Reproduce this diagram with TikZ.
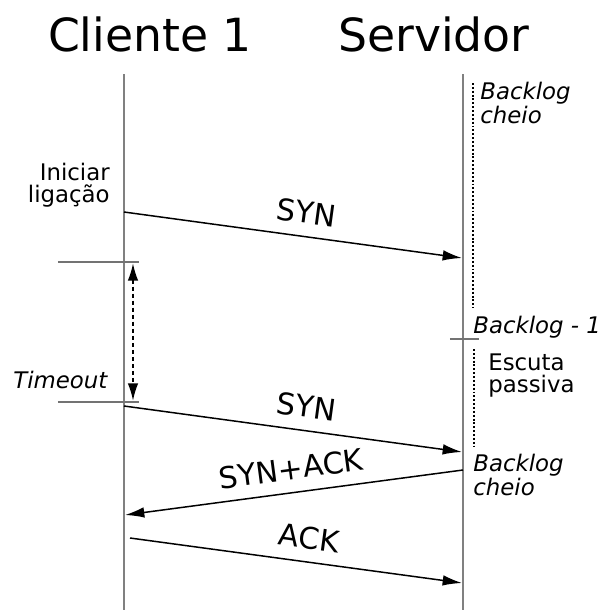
\documentclass[tikz,border=0pt]{standalone}
\usepackage{fontspec}
\setmainfont{DejaVu Sans}
\usetikzlibrary{arrows.meta}
\usetikzlibrary{positioning}

\begin{document}
\begin{tikzpicture}[x=0.02cm,y=-0.02cm,
  lifeline/.style={draw=black!50,line width=1.7pt},
  tick/.style={draw=black!55,line width=1.2pt},
  msg/.style={draw,line width=0.85pt,-{Latex[length=11pt,width=6pt]}},
  backlog/.style={draw,line width=1.1pt,dash pattern=on 1.1pt off 1.1pt},
  heading/.style={font=\fontsize{26}{30}\selectfont,anchor=base},
  note/.style={font=\fontsize{13}{12.5}\selectfont,inner sep=0pt},
  lbl/.style={font=\fontsize{17}{20}\selectfont,sloped,above=3.5pt}]
  \useasboundingbox (0,0) rectangle (605,610);

  %top
  \node[heading] (cli) at (150,51) {Cliente 1};
  \node[heading] (srv) at (434,51) {Servidor};
  \coordinate (c-top) at (124,74);
  \coordinate (c-bot) at (124,610);
  \coordinate (s-top) at (463,74);
  \coordinate (s-bot) at (463,610);
  \draw[lifeline] (c-top) -- (c-bot);
  \draw[lifeline] (s-top) -- (s-bot);

  %backlog
  \coordinate (b1-top) at (473,83);
  \coordinate (b1-bot) at (473,308);
  \coordinate (b2-top) at (474,349);
  \coordinate (b2-bot) at (474,447);
  \draw[backlog] (b1-top) -- (b1-bot);
  \draw[backlog] (b2-top) -- (b2-bot);
  \coordinate (bt-l) at (450,339);
  \coordinate (bt-r) at (479,339);
  \draw[tick] (bt-l) -- (bt-r);
  \node[note,anchor=base west,align=left,font=\fontsize{13}{12.5}\selectfont\itshape] (full1) at (480,123) {Backlog\\cheio};
  \node[note,anchor=base west,font=\fontsize{13}{15}\selectfont\itshape] (minus) at (473,333) {Backlog - 1};
  \node[note,anchor=base west,align=left,font=\fontsize{13}{12}\selectfont] (listen) at (488,392) {Escuta\\passiva};
  \node[note,anchor=base west,align=left,font=\fontsize{13}{12.5}\selectfont\itshape] (full2) at (473,495) {Backlog\\cheio};

  %timeout
  \coordinate (t1-l) at (58,262);
  \coordinate (t1-r) at (139,262);
  \coordinate (t2-l) at (58,402);
  \coordinate (t2-r) at (139,402);
  \draw[tick] (t1-l) -- (t1-r);
  \draw[tick] (t2-l) -- (t2-r);
  \coordinate (to-top) at (133,263);
  \coordinate (to-bot) at (133,401);
  \draw[line width=1.2pt,dash pattern=on 2.5pt off 1.5pt,{Latex[length=10pt,width=6pt]}-{Latex[length=10pt,width=6pt]}] (to-top) -- (to-bot);
  \node[note,anchor=base west,font=\fontsize{13}{15}\selectfont\itshape] (tout) at (13,388) {Timeout};
  \node[note,anchor=base east,align=right,font=\fontsize{13}{12.5}\selectfont] (start) at (110,202) {Iniciar\\ligação};

  %messages
  \coordinate (syn1-a) at (124,212);
  \coordinate (syn1-b) at (462,258);
  \coordinate (syn2-a) at (124,406);
  \coordinate (syn2-b) at (462,452);
  \coordinate (sa-a) at (463,470);
  \coordinate (sa-b) at (125,515);
  \coordinate (ack-a) at (130,538);
  \coordinate (ack-b) at (462,583);
  \draw[msg] (syn1-a) -- node[lbl,pos=0.53] (syn1) {SYN} (syn1-b);
  \draw[msg] (syn2-a) -- node[lbl,pos=0.53] (syn2) {SYN} (syn2-b);
  \draw[msg] (sa-a) -- node[lbl,pos=0.5] (synack) {SYN+ACK} (sa-b);
  \draw[msg] (ack-a) -- node[lbl,pos=0.53] (ack) {ACK} (ack-b);
\end{tikzpicture}
\end{document}
